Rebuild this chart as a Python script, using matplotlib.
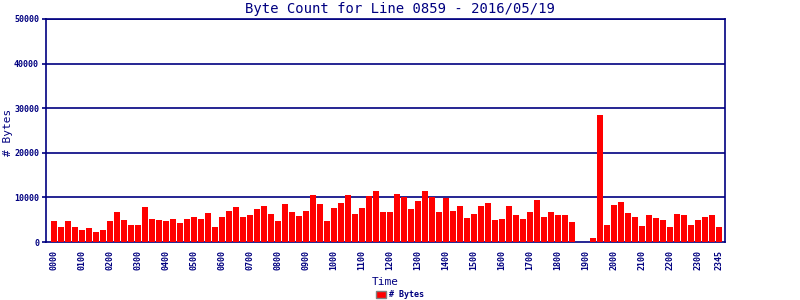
import matplotlib
matplotlib.use("Agg")
import matplotlib.pyplot as plt
from matplotlib.patches import Patch

title = "Byte Count for Line 0859 - 2016/05/19"
times = [f"{h:02d}{m:02d}" for h in range(24) for m in (0, 15, 30, 45)]
byte_counts = [
    4620, 3410, 4620, 3410, 2580, 3180, 2350, 2580,
    4620, 6820, 5000, 3860, 3860, 7950, 5230, 5000,
    4770, 5230, 4320, 5230, 5680, 5230, 6590, 3410,
    5680, 7050, 7950, 5680, 6140, 7500, 8180, 6360,
    4770, 8410, 6820, 5910, 7050, 10450, 8410, 4770,
    7730, 8640, 10450, 6360, 7730, 10230, 11360, 6820,
    6820, 10680, 10000, 7500, 9090, 11360, 10000, 6820,
    9770, 7050, 8180, 5450, 6360, 8180, 8640, 5000,
    5230, 8180, 6140, 5230, 6820, 9320, 5680, 6820,
    5950, 5950, 4580, 0, 0, 920, 28400, 3890,
    8240, 8930, 6410, 5500, 3660, 5950, 5270, 5040,
    3440, 6180, 5950, 3890, 5040, 5500, 5950, 3440,
]
tick_labels = [f"{h:02d}00" for h in range(24)] + ["2345"]
y_ticks = [0, 10000, 20000, 30000, 40000, 50000]

navy = "#000080"
red = "#FF0000"
mono = "DejaVu Sans Mono"

fig = plt.figure(figsize=(8, 3), dpi=100)
ax = fig.add_axes([46/800, 58/300, (725-46)/800, (242-19)/300])

x = list(range(len(byte_counts)))
ax.bar(x, byte_counts, width=0.86, color=red, zorder=3)

ax.set_xlim(-1.14, 95.86)
ax.set_ylim(0, 50000)
ax.set_yticks(y_ticks)
ax.set_yticklabels([str(v) for v in y_ticks], fontsize=6, fontweight="bold",
                   family=mono, color=navy)
for v in y_ticks[1:]:
    ax.axhline(v, color=navy, lw=1.2, zorder=2)

tick_pos = [times.index(t) for t in tick_labels]
ax.set_xticks(tick_pos)
ax.set_xticklabels(tick_labels, rotation=90, fontsize=6, fontweight="bold",
                   family=mono, color=navy)
ax.tick_params(axis="x", length=0, pad=6)
ax.tick_params(axis="y", length=3, color=navy, width=1.2, pad=2)

for s in ax.spines.values():
    s.set_color(navy)
    s.set_linewidth(1.2)

ax.set_xlabel("Time", fontsize=8, family=mono, color=navy, labelpad=5)
fig.text(8/800, 1 - 132/300, "# Bytes", rotation=90, ha="center", va="center",
         fontsize=8, family=mono, color=navy)
fig.text(0.5, 0.97, title, ha="center", va="center", fontsize=10,
         family=mono, color=navy)

handles = [Patch(facecolor=red, edgecolor="#808080", label="# Bytes")]
fig.legend(handles=handles, loc="center", bbox_to_anchor=(0.5, 0.017),
           frameon=False, prop={"family": mono, "size": 6, "weight": "bold"},
           handlelength=1.2, handleheight=0.8, handletextpad=0.4,
           labelcolor=navy)

fig.savefig("out.png", dpi=100)
